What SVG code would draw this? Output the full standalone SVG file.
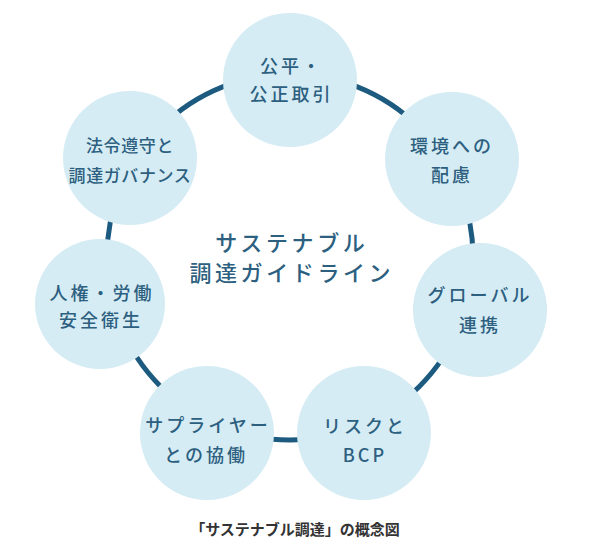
<svg xmlns="http://www.w3.org/2000/svg" width="593" height="558" viewBox="0 0 593 558">
<style>
.node circle{fill:#d5ecf4}
.lbl{font-family:"Noto Sans CJK JP","Noto Sans",sans-serif;font-size:18px;font-weight:500;fill:#2d5f80;text-anchor:middle;letter-spacing:3px}
.sm{font-size:17px;letter-spacing:0.6px}
.center{font-family:"Noto Sans CJK JP","Noto Sans",sans-serif;font-size:22px;font-weight:500;fill:#2d5f80;text-anchor:middle;letter-spacing:3.6px}
.cap{font-family:"Noto Sans CJK JP","Noto Sans",sans-serif;font-size:15px;font-weight:bold;fill:#333;text-anchor:middle}
</style>
<rect width="593" height="558" fill="#fff"/>
<g id="connectors">
<circle cx="290" cy="257" r="183" fill="none" stroke="#1d5a80" stroke-width="5"/>
</g>
<g id="n-fair" class="node"><circle cx="290" cy="80" r="67"/>
<text class="lbl" x="291.5" y="73">公平・</text><text class="lbl" x="291.5" y="101">公正取引</text></g>
<g id="n-env" class="node"><circle cx="452" cy="159" r="67"/>
<text class="lbl" x="452" y="153">環境への</text><text class="lbl" x="452" y="182">配慮</text></g>
<g id="n-global" class="node"><circle cx="480" cy="310" r="67"/>
<text class="lbl" x="480" y="302">グローバル</text><text class="lbl" x="480" y="332">連携</text></g>
<g id="n-risk" class="node"><circle cx="364" cy="433" r="67"/>
<text class="lbl" x="365" y="433">リスクと</text><text class="lbl" x="365" y="462">BCP</text></g>
<g id="n-supplier" class="node"><circle cx="207" cy="433" r="67"/>
<text class="lbl" x="208" y="432">サプライヤー</text><text class="lbl" x="206" y="462">との協働</text></g>
<g id="n-human" class="node"><circle cx="100" cy="304" r="65"/>
<text class="lbl" x="102" y="300">人権・労働</text><text class="lbl" x="101" y="327">安全衛生</text></g>
<g id="n-law" class="node"><circle cx="130" cy="158" r="67"/>
<text class="lbl sm" x="130" y="152">法令遵守と</text><text class="lbl sm" x="130" y="182">調達ガバナンス</text></g>
<g id="center">
<text class="center" x="291.8" y="251">サステナブル</text>
<text class="center" x="291.8" y="281">調達ガイドライン</text>
</g>
<text class="cap" x="295" y="535">「サステナブル調達」の概念図</text>
</svg>
